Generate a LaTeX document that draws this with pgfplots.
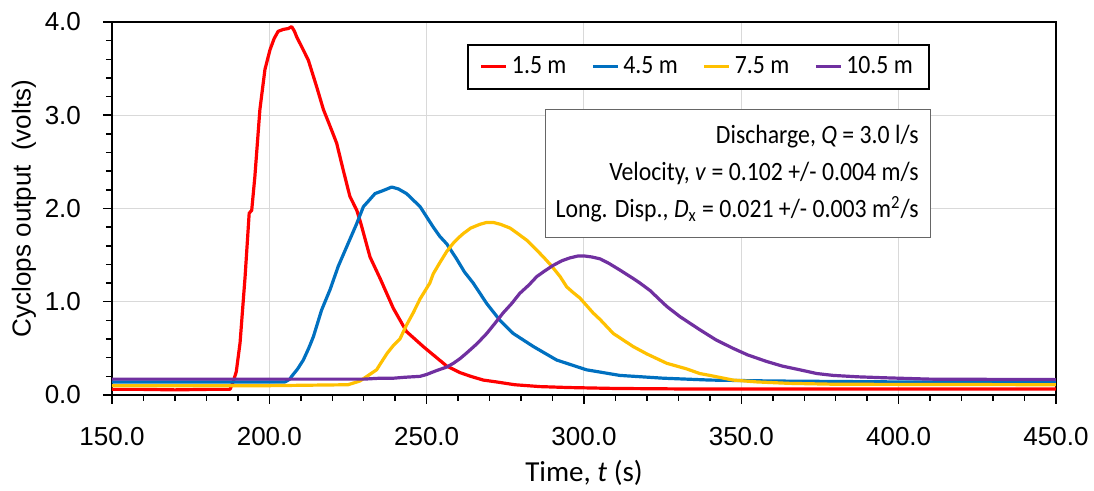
\documentclass[border=0pt]{standalone}
\usepackage{fontspec}
\setmainfont{Liberation Sans}
\newfontfamily\narrow[FakeStretch=0.9]{Carlito}
\newfontfamily\aptos{Carlito}
\usepackage{pgfplots}
\pgfplotsset{compat=1.18}
\definecolor{cred}{HTML}{FF0000}
\definecolor{cblue}{HTML}{0070C0}
\definecolor{cyellow}{HTML}{FFC000}
\definecolor{cpurple}{HTML}{7030A0}
\definecolor{gridgray}{HTML}{D9D9D9}
\begin{document}
\begin{tikzpicture}
\path[use as bounding box] (-56pt,-48pt) rectangle (491pt,197.5pt);
\begin{axis}[
  at={(0,0)}, anchor=south west,
  scale only axis, width=472pt, height=186.5pt,
  xmin=150, xmax=450, ymin=0, ymax=4,
  xtick={150,200,...,450}, ytick={0,1,2,3,4},
  minor x tick num=4, minor y tick num=4,
  tick align=outside, tick pos=left,
  major tick length=4.5pt, minor tick length=3pt,
  grid=major, major grid style={draw=gridgray, line width=0.5pt},
  axis line style={line width=1pt, black},
  tick style={black, line width=0.75pt},
  /pgf/number format/assume math mode=true,
  tick label style={font=\fontsize{13}{15}\selectfont},
  x tick label style={yshift=-8pt, /pgf/number format/.cd, fixed, fixed zerofill, precision=1, 1000 sep={}, /tikz/.cd},
  y tick label style={xshift=-7.5pt, /pgf/number format/.cd, fixed, fixed zerofill, precision=1, /tikz/.cd},
  legend columns=4,
  legend style={at={(0.3763,0.941)}, anchor=north west, draw=black, line width=0.75pt,
    font=\narrow\fontsize{13.2}{15}\selectfont, inner xsep=6pt, inner ysep=4pt,
    /tikz/every even column/.append style={column sep=10.5pt}},
  legend image code/.code={\draw[#1, line width=1.5pt] (0pt,0pt) -- (12.5pt,0pt);},
  every axis plot/.append style={line width=1.6pt, line join=round},
]
\addplot[cred] coordinates {
(150,0.06) (160,0.06) (170,0.055) (180,0.06) (187.5,0.06) (188.5,0.14) (189.5,0.25) (190.7,0.56) (192.3,1.27) (193.6,1.95) (194.4,1.98) (195.4,2.34) (197.0,3.06) (198.6,3.49) (200.2,3.70) (201.5,3.82) (202.8,3.90) (204.4,3.92) (206,3.93) (207.1,3.95) (208.0,3.90) (208.7,3.84) (210.8,3.70) (212.4,3.59) (215.0,3.31) (217.2,3.06) (219.8,2.84) (221.4,2.70) (223.5,2.41) (225.6,2.13) (227.8,1.98) (229,1.85) (232.0,1.48) (235.2,1.25) (239.4,0.93) (243.6,0.68) (248.9,0.52) (252.1,0.43) (256.4,0.31) (260.6,0.24) (264,0.2) (268,0.16) (272.2,0.14) (278,0.11) (286,0.09) (295,0.08) (310,0.07) (330,0.065) (360,0.065) (400,0.065) (450,0.065)
};
\addlegendentry{1.5 m}
\addplot[cblue] coordinates {
(150,0.14) (180,0.14) (200,0.14) (205,0.14) (206.5,0.17) (207.1,0.20) (209,0.28) (210.8,0.375) (212.5,0.5) (214.0,0.625) (216.6,0.91) (219.3,1.13) (221.9,1.38) (225.1,1.63) (227.8,1.84) (229.9,2.02) (231.5,2.08) (233.6,2.16) (236,2.19) (238.9,2.23) (241,2.21) (243.6,2.16) (247.9,2.02) (252.1,1.80) (254.2,1.70) (256.4,1.62) (259.5,1.46) (262,1.32) (264.8,1.20) (269.1,0.98) (273.3,0.80) (277.5,0.66) (283.9,0.52) (291.3,0.375) (300.8,0.27) (311.4,0.21) (325.2,0.18) (340,0.16) (360,0.15) (400,0.14) (450,0.14)
};
\addlegendentry{4.5 m}
\addplot[cyellow] coordinates {
(150,0.10) (200,0.10) (225,0.11) (228.8,0.15) (231,0.2) (234.1,0.27) (235.2,0.33) (237.5,0.45) (239.4,0.53) (241.5,0.60) (243.6,0.75) (245.7,0.88) (247.9,1.03) (251.0,1.20) (252.1,1.30) (254.2,1.42) (256.4,1.54) (258.5,1.63) (260.6,1.70) (261.6,1.73) (264,1.79) (266.9,1.83) (269,1.85) (271.2,1.85) (273.5,1.83) (276.5,1.79) (279,1.73) (281.8,1.66) (284.5,1.57) (287.1,1.48) (289.8,1.38) (292.4,1.27) (294.5,1.16) (296.5,1.10) (298.7,1.04) (300.8,0.96) (302.9,0.88) (305.1,0.81) (309.3,0.66) (315.6,0.52) (320,0.44) (324.1,0.375) (326.3,0.34) (332.6,0.28) (336.8,0.23) (340,0.21) (347.4,0.16) (355,0.14) (365,0.125) (380,0.115) (450,0.11)
};
\addlegendentry{7.5 m}
\addplot[cpurple] coordinates {
(150,0.17) (200,0.17) (230,0.17) (235.2,0.18) (239.4,0.18) (243,0.19) (247.9,0.20) (250,0.22) (253,0.26) (256.4,0.30) (258.5,0.34) (260.6,0.39) (262.7,0.45) (266,0.55) (269.1,0.66) (271.5,0.76) (274.3,0.88) (277,0.98) (279.6,1.09) (282.5,1.18) (285.0,1.27) (287.5,1.33) (290.2,1.39) (293,1.44) (295.5,1.47) (298,1.49) (300.3,1.49) (302.5,1.48) (305.1,1.46) (308,1.41) (311.4,1.34) (315.6,1.25) (317.8,1.20) (321,1.12) (324.1,1.02) (326.3,0.95) (330.5,0.84) (336.8,0.70) (342,0.59) (347.4,0.50) (352,0.43) (358.0,0.36) (363,0.31) (368.6,0.27) (374,0.23) (379.2,0.21) (387,0.195) (395.1,0.185) (410,0.17) (450,0.165)
};
\addlegendentry{10.5 m}
\end{axis}
% text box
\draw[draw=black!60, line width=0.5pt, fill=white] (216.9pt,78.9pt) rectangle (409pt,142.5pt);
\node[anchor=base east, inner sep=0pt, font=\narrow\fontsize{13.2}{15}\selectfont] at (403.5pt,125.5pt) {Discharge, \textit{Q} = 3.0 l/s};
\node[anchor=base east, inner sep=0pt, font=\narrow\fontsize{13.2}{15}\selectfont] at (403.5pt,107pt) {Velocity, \textit{v} = 0.102 +/- 0.004 m/s};
\node[anchor=base east, inner sep=0pt, font=\narrow\fontsize{13.2}{15}\selectfont] at (403.5pt,88.7pt) {Long. Disp., \textit{D}\textsubscript{x} = 0.021 +/- 0.003 m\textsuperscript{2}/s};
% axis labels
\node[font=\aptos\fontsize{14.5}{16}\selectfont] at (236pt,-39pt) {Time, \textit{t} (s)};
\node[rotate=90, font=\fontsize{13}{15}\selectfont] at (-44pt,93.25pt) {Cyclops output\ \ (volts)};
\end{tikzpicture}
\end{document}
